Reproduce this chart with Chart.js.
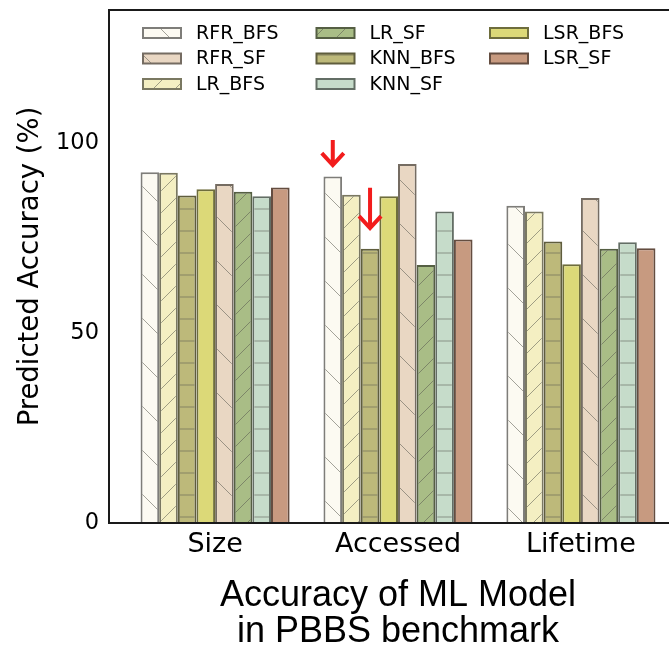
<!DOCTYPE html>
<html>
<head>
<meta charset="utf-8">
<script src="https://cdn.jsdelivr.net/npm/chart.js@4.4.1/dist/chart.umd.min.js"></script>
<style>
  html, body { margin: 0; padding: 0; background: #fff; overflow: hidden; }
  #wrap { width: 669px; height: 660px; overflow: hidden; }
</style>
</head>
<body>
<div id="wrap"><canvas id="chart" width="700" height="660"></canvas></div>
<script>
const GROUPS = [`Size`, `Accessed`, `Lifetime`];
const SERIES = [`RFR_BFS`, `LR_BFS`, `KNN_BFS`, `LSR_BFS`, `RFR_SF`, `LR_SF`, `KNN_SF`, `LSR_SF`];

const RFR_BFS = [92.3, 91.2, 83.5];
const LR_BFS = [92.2, 86.4, 82.0];
const KNN_BFS = [86.2, 72.2, 74.1];
const LSR_BFS = [87.8, 86.0, 68.1];
const RFR_SF = [89.2, 94.5, 85.5];
const LR_SF = [87.2, 67.9, 72.2];
const KNN_SF = [86.0, 82.0, 73.9];
const LSR_SF = [88.3, 74.6, 72.3];

const Y_TICKS = [0, 50, 100];
const LEGEND_ORDER = [`RFR_BFS`, `RFR_SF`, `LR_BFS`, `LR_SF`, `KNN_BFS`, `KNN_SF`, `LSR_BFS`, `LSR_SF`];

// red arrows pasted on the figure, pointing at two Accessed bars
const ARROWS = [
  {series: `RFR_BFS`, group: `Accessed`, from: 100.8, to: 94.2},
  {series: `KNN_BFS`, group: `Accessed`, from: 88.2, to: 77.6},
];

const VALUES = [RFR_BFS, LR_BFS, KNN_BFS, LSR_BFS, RFR_SF, LR_SF, KNN_SF, LSR_SF];

const STYLE = {
  RFR_BFS: {color: `#fcfaf2`, hatch: `\\`},
  LR_BFS: {color: `#f4efc2`, hatch: `/`},
  KNN_BFS: {color: `#bdb97a`, hatch: `-`},
  LSR_BFS: {color: `#dcd978`, hatch: null},
  RFR_SF: {color: `#e9d7c3`, hatch: `\\`},
  LR_SF: {color: `#a9bd86`, hatch: `/`},
  KNN_SF: {color: `#c6dcca`, hatch: `-`},
  LSR_SF: {color: `#c79a80`, hatch: null},
};

const canvas = document.getElementById(`chart`);
const mainCtx = canvas.getContext(`2d`);

const shade = (hex, k) => {
  const n = parseInt(hex.slice(1), 16);
  const r = Math.round(((n >> 16) & 255) * k);
  const g = Math.round(((n >> 8) & 255) * k);
  const b = Math.round((n & 255) * k);
  return `rgb(${r}, ${g}, ${b})`;
};

const makeFill = (color, hatch) => {
  if (!hatch) {
    return color;
  }
  const size = hatch === `\\` ? 44 : 22;
  const tile = document.createElement(`canvas`);
  tile.width = size;
  tile.height = size;
  const g = tile.getContext(`2d`);
  g.fillStyle = color;
  g.fillRect(0, 0, size, size);
  g.strokeStyle = `rgba(90, 90, 80, 0.55)`;
  g.lineWidth = 1;
  g.beginPath();
  if (hatch === `-`) {
    g.moveTo(0, size / 2);
    g.lineTo(size, size / 2);
  } else if (hatch === `/`) {
    g.moveTo(-1, size + 1);
    g.lineTo(size + 1, -1);
    g.moveTo(-1, 1);
    g.lineTo(1, -1);
    g.moveTo(size - 1, size + 1);
    g.lineTo(size + 1, size - 1);
  } else {
    g.moveTo(-1, -1);
    g.lineTo(size + 1, size + 1);
    g.moveTo(size - 1, -1);
    g.lineTo(size + 1, 1);
    g.moveTo(-1, size - 1);
    g.lineTo(1, size + 1);
  }
  g.stroke();
  return mainCtx.createPattern(tile, `repeat`);
};

const datasets = SERIES.map((name, i) => ({
  label: name,
  data: VALUES[i].map((v, k) => ({x: k, y: v})),
  backgroundColor: makeFill(STYLE[name].color, STYLE[name].hatch),
  borderColor: shade(STYLE[name].color, 0.5),
  borderWidth: 2,
  categoryPercentage: 0.815,
  barPercentage: 1,
}));

const framePlugin = {
  id: `frame`,
  afterDatasetsDraw(chart) {
    const {ctx, chartArea: a} = chart;
    ctx.save();
    ctx.strokeStyle = `#1a1a1a`;
    ctx.lineWidth = 2;
    ctx.strokeRect(a.left, a.top, a.right - a.left, a.bottom - a.top);
    ctx.restore();
  }
};

const legendPlugin = {
  id: `columnLegend`,
  afterDraw(chart) {
    const {ctx, chartArea: a} = chart;
    ctx.save();
    ctx.font = `19px "DejaVu Sans"`;
    ctx.textBaseline = `middle`;
    LEGEND_ORDER.forEach((name, k) => {
      const col = Math.floor(k / 3);
      const row = k % 3;
      const x = a.left + 33 + col * 173.5;
      const y = a.top + 23 + row * 25.5;
      const ds = chart.data.datasets[SERIES.indexOf(name)];
      ctx.fillStyle = ds.borderColor;
      ctx.fillRect(x, y - 6, 40, 12);
      ctx.fillStyle = ds.backgroundColor;
      ctx.fillRect(x + 2, y - 4, 36, 8);
      ctx.fillStyle = `#000`;
      ctx.fillText(name, x + 54, y + 1);
    });
    ctx.restore();
  }
};

const arrowPlugin = {
  id: `arrows`,
  afterDraw(chart) {
    const {ctx} = chart;
    const yScale = chart.scales.y;
    ctx.save();
    ctx.strokeStyle = `#f21c1c`;
    ctx.lineWidth = 4;
    ARROWS.forEach(({series, group, from, to}) => {
      const bar = chart.getDatasetMeta(SERIES.indexOf(series)).data[GROUPS.indexOf(group)];
      const top = yScale.getPixelForValue(from);
      const tip = yScale.getPixelForValue(to);
      ctx.beginPath();
      ctx.moveTo(bar.x, top);
      ctx.lineTo(bar.x, tip - 2);
      ctx.moveTo(bar.x - 11, tip - 12);
      ctx.lineTo(bar.x, tip);
      ctx.lineTo(bar.x + 11, tip - 12);
      ctx.stroke();
    });
    ctx.restore();
  }
};

new Chart(canvas, {
  type: `bar`,
  data: {datasets},
  plugins: [framePlugin, legendPlugin, arrowPlugin],
  options: {
    responsive: false,
    animation: false,
    devicePixelRatio: 1,
    layout: {padding: {top: 10, right: 13, left: 0, bottom: 0}},
    plugins: {legend: {display: false}, tooltip: {enabled: false}},
    scales: {
      x: {
        type: `linear`,
        min: -0.58,
        max: 2.58,
        offset: false,
        grid: {display: false, drawTicks: false},
        border: {display: false},
        afterBuildTicks: (scale) => {
          scale.ticks = GROUPS.map((_, i) => ({value: i}));
        },
        afterFit: (scale) => {
          scale.height = 137;
        },
        ticks: {
          callback: (v) => GROUPS[v],
          font: {family: `DejaVu Sans`, size: 27},
          color: `#000`,
          padding: 6,
          maxRotation: 0,
          autoSkip: false,
        },
        title: {
          display: true,
          text: [`Accuracy of ML Model`, `in PBBS benchmark`],
          font: {family: `Liberation Sans`, size: 36, lineHeight: 1},
          color: `#000`,
          padding: {top: 0, bottom: 10},
        },
      },
      y: {
        min: 0,
        max: 135,
        grid: {display: false, drawTicks: false},
        border: {display: false},
        afterBuildTicks: (scale) => {
          scale.ticks = Y_TICKS.map((v) => ({value: v}));
        },
        afterFit: (scale) => {
          scale.width = 109;
          scale.paddingTop = 0;
          scale.paddingBottom = 0;
        },
        ticks: {
          font: {family: `DejaVu Sans`, size: 22.5},
          color: `#000`,
          padding: 10,
        },
        title: {
          display: true,
          text: `Predicted Accuracy (%)`,
          font: {family: `DejaVu Sans`, size: 27.5, lineHeight: 1.2},
          color: `#000`,
          padding: {top: 14, bottom: 0},
        },
      },
    },
  },
});
</script>
</body>
</html>
